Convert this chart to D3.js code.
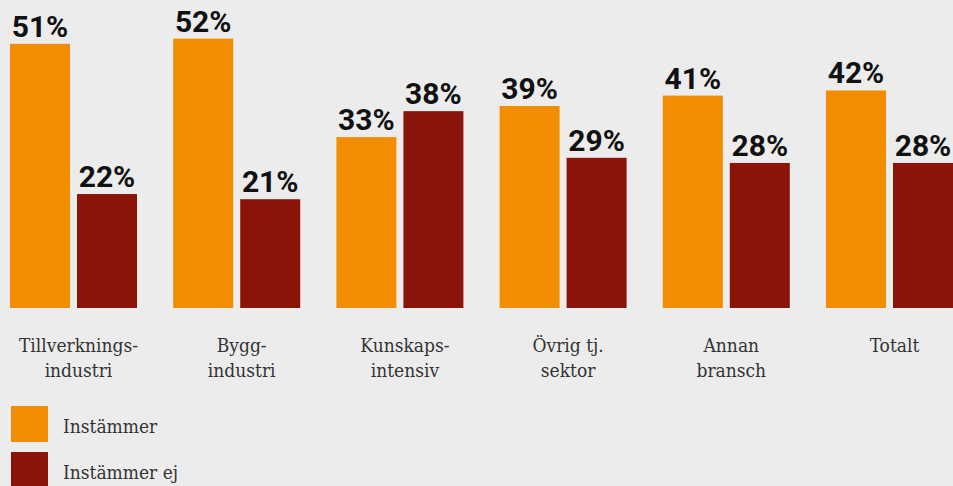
<!DOCTYPE html>
<html>
<head>
<meta charset="utf-8">
<script src="https://cdn.jsdelivr.net/npm/d3@7"></script>
<style>
  html, body { margin: 0; padding: 0; background: #ececec; }
  svg { display: block; }
</style>
</head>
<body>
<script>
// Categories (each label split into its display lines)
const categories = ["Tillverkningsindustri", "Byggindustri", "Kunskapsintensiv", "Övrig tj. sektor", "Annan bransch", "Totalt"];
const categoryLines = [
  ["Tillverknings-", "industri"],
  ["Bygg-", "industri"],
  ["Kunskaps-", "intensiv"],
  ["Övrig tj.", "sektor"],
  ["Annan", "bransch"],
  ["Totalt"]
];
const seriesNames = ["Instämmer", "Instämmer ej"];
const instammer = [51, 52, 33, 39, 41, 42];
const instammerEj = [22, 21, 38, 29, 28, 28];
const seriesColors = ["#f28c00", "#8a1409"];

const W = 953, H = 486;
const svg = d3.select("body").append("svg").attr("width", W).attr("height", H);

const baseY = 308;
const groupW = 127;
const x0 = d3.scaleBand().domain(categories).range([10, 10 + 6 * 163.2]);
const x1 = d3.scaleBand().domain(seriesNames).range([0, groupW]).paddingInner(0.1045);
const y = d3.scaleLinear().domain([0, 59.46]).range([baseY, 0]);

const rows = categories.map((c, i) => ({ cat: c, vals: [instammer[i], instammerEj[i]] }));

const groups = svg.selectAll("g.grp").data(rows).join("g")
  .attr("class", "grp")
  .attr("transform", d => `translate(${x0(d.cat)},0)`);

groups.selectAll("rect").data(d => d.vals.map((v, j) => ({ v, s: seriesNames[j], j })))
  .join("rect")
  .attr("x", d => x1(d.s))
  .attr("y", d => y(d.v))
  .attr("width", x1.bandwidth())
  .attr("height", d => baseY - y(d.v))
  .attr("fill", d => seriesColors[d.j]);

groups.selectAll("text.val").data(d => d.vals.map((v, j) => ({ v, s: seriesNames[j] })))
  .join("text")
  .attr("class", "val")
  .attr("x", d => x1(d.s) + x1.bandwidth() / 2)
  .attr("y", d => y(d.v) - 7)
  .attr("text-anchor", "middle")
  .attr("font-family", "Roboto, sans-serif")
  .attr("font-weight", 700)
  .attr("font-size", 30)
  .attr("fill", "#111")
  .text(d => d.v + "%");

const labelFont = "'DejaVu Serif Condensed', 'DejaVu Serif', serif";

// Category labels below the baseline
groups.each(function (d, i) {
  const t = d3.select(this).append("text")
    .attr("text-anchor", "middle")
    .attr("font-family", labelFont)
    .attr("font-size", 19)
    .attr("fill", "#333");
  categoryLines[i].forEach((line, k) => {
    t.append("tspan")
      .attr("x", groupW / 2 + 5)
      .attr("y", 352 + k * 24.5)
      .text(line);
  });
});

// Legend
const legend = svg.append("g").selectAll("g").data(seriesNames).join("g")
  .attr("transform", (d, i) => `translate(11,${406 + i * 46})`);
legend.append("rect").attr("width", 37).attr("height", 36).attr("fill", (d, i) => seriesColors[i]);
legend.append("text")
  .attr("x", 52).attr("y", 27)
  .attr("font-family", labelFont)
  .attr("font-size", 19)
  .attr("fill", "#333")
  .text(d => d);
</script>
</body>
</html>
